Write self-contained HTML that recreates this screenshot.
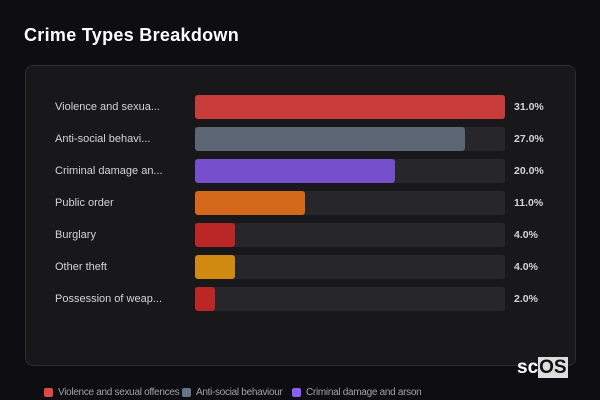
<!DOCTYPE html>
<html><head><meta charset="utf-8"><style>
body{margin:0;width:600px;height:400px;background:#0e0d12;font-family:"Liberation Sans",sans-serif;overflow:hidden;position:relative}
.title{position:absolute;left:24px;top:25px;font-size:18px;font-weight:bold;color:#fff;letter-spacing:0.3px}
.card{position:absolute;left:25px;top:65px;width:551px;height:301px;background:#18181b;border:1px solid #2c2c31;border-radius:8px;box-sizing:border-box}
.lbl{position:absolute;left:55px;font-size:11px;color:#d4d4d8;line-height:24px}
.track{position:absolute;left:195px;width:310px;height:24px;background:#26262b;border-radius:3px}
.bar{position:absolute;left:0;top:0;height:24px;border-radius:3px}
.val{position:absolute;left:514px;font-size:10.5px;font-weight:bold;color:#d4d4d8;line-height:24px}
.leg{position:absolute;top:387px;font-size:10px;color:#a1a1aa;display:flex;align-items:center;gap:5px;letter-spacing:-0.3px}
.sw{width:9px;height:9px;border-radius:2px}
.logo{position:absolute;left:517px;top:357px;font-size:19px;font-weight:bold;color:#fff}
.logo span{background:#ddd;color:#111;padding:0 1px}
</style></head><body>
<div class="title">Crime Types Breakdown</div>
<div class="card"></div>
<div id="rows"></div>
<div class="logo">sc<span>OS</span></div>
<div class="leg" style="left:44px"><div class="sw" style="background:#e04848"></div>Violence and sexual offences</div>
<div class="leg" style="left:182px"><div class="sw" style="background:#64748b"></div>Anti-social behaviour</div>
<div class="leg" style="left:292px"><div class="sw" style="background:#8b5cf6"></div>Criminal damage and arson</div>
<script>
const labels=["Violence and sexua...","Anti-social behavi...","Criminal damage an...","Public order","Burglary","Other theft","Possession of weap..."];
const values=[31,27,20,11,4,4,2];
const colors=["#c83c3c","#5b6573","#7650cc","#d4691c","#bb2626","#d08a12","#bb2626"];
const maxV=31,trackW=310,top0=95,step=32;
const x=v=>v/maxV*trackW;
const root=document.getElementById('rows');
values.forEach((v,i)=>{
 const y=top0+i*step;
 const l=document.createElement('div');l.className='lbl';l.style.top=y+'px';l.textContent=labels[i];
 
 
 const t=document.createElement('div');t.className='track';t.style.top=y+'px';
 
 
 const b=document.createElement('div');b.className='bar';b.style.width=x(v)+'px';b.style.background=colors[i];
 
 
 t.appendChild(b);
 const vl=document.createElement('div');vl.className='val';vl.style.top=y+'px';vl.textContent=v.toFixed(1)+'%';
 
 
 root.append(l,t,vl);
});
</script>
</body></html>
